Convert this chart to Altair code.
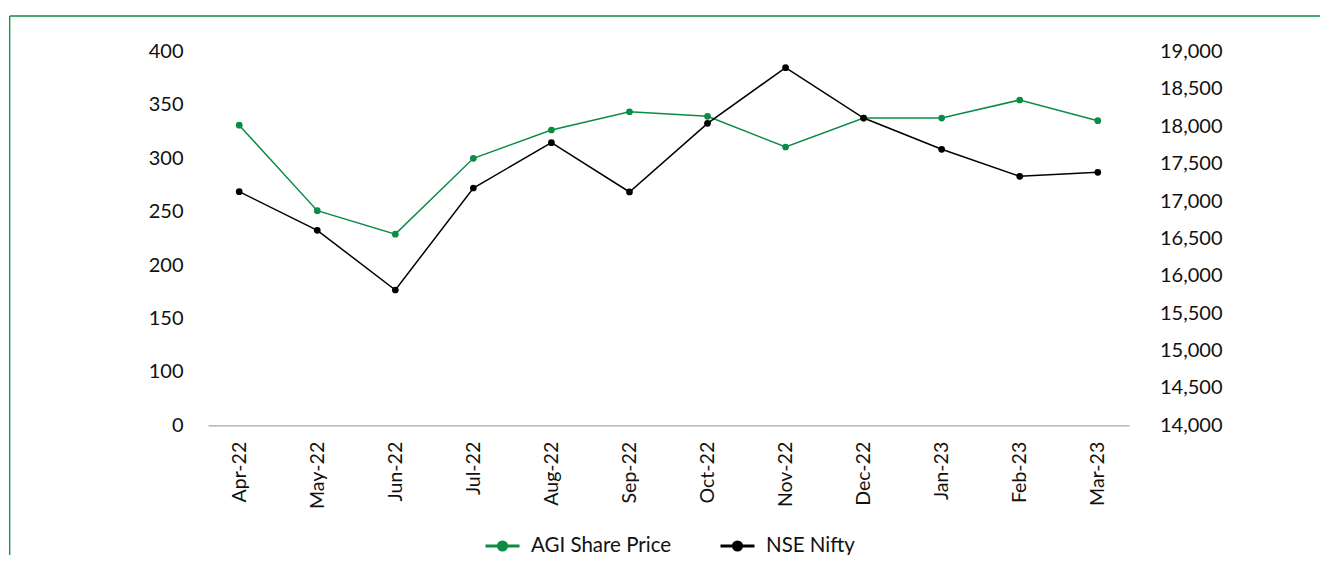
import altair as alt
import pandas as pd

months = ["Apr-22", "May-22", "Jun-22", "Jul-22", "Aug-22", "Sep-22",
          "Oct-22", "Nov-22", "Dec-22", "Jan-23", "Feb-23", "Mar-23"]
agi_price = [331, 251, 229, 300, 326.5, 343.6, 339.3, 310.6, 337.7, 337.7, 354.6, 335.2]
nse_nifty = [17125, 16608, 15810, 17174, 17780, 17121, 18039, 18784, 18110, 17692, 17331, 17384]
series_names = ["AGI Share Price", "NSE Nifty"]
series_colors = ["#0b8c45", "#000000"]
left_ticks = [50, 100, 150, 200, 250, 300, 350, 400]
right_ticks = list(range(14000, 19001, 500))

FONT = "Lato"
W, H = 921, 373.8
PAD_L, PAD_T = 200, 43.5
TOTAL_W, TOTAL_H = 1312, 547

df_agi = pd.DataFrame({"month": months, "value": agi_price, "series": series_names[0]})
df_nse = pd.DataFrame({"month": months, "value": nse_nifty, "series": series_names[1]})

legend_path = "M-1,0L1,0M-0.24,0A0.24,0.24 0 1,1 0.24,0A0.24,0.24 0 1,1 -0.24,0Z"

x_enc = alt.X("month:O", sort=months, scale=alt.Scale(type="point", padding=0.4),
              axis=alt.Axis(title=None, labelAngle=-90, labelPadding=16, ticks=False,
                            domainColor="#a6a6a6", domainWidth=1.2, labelFontSize=19.5,
                            labelFont=FONT, labelColor="#111"))
color_enc = alt.Color("series:N", scale=alt.Scale(domain=series_names, range=series_colors),
                      legend=alt.Legend(title=None, orient="none", legendX=276, legendY=476,
                                        direction="horizontal", symbolType=legend_path,
                                        symbolSize=1156, symbolStrokeWidth=3,
                                        labelFontSize=20.5, labelFont=FONT, labelColor="#111",
                                        labelOffset=10, columnPadding=42))

y_left = alt.Y("value:Q", scale=alt.Scale(domain=[50, 400], nice=False, zero=False),
               axis=alt.Axis(title=None, values=left_ticks, grid=False, domain=False, ticks=False,
                             labelExpr="datum.value == 50 ? '0' : datum.label",
                             labelPadding=25, labelFontSize=20, labelFont=FONT, labelColor="#111"))
y_right = alt.Y("value:Q", scale=alt.Scale(domain=[14000, 19000], nice=False, zero=False),
                axis=alt.Axis(title=None, orient="right", values=right_ticks, format=",.0f",
                              grid=False, domain=False, ticks=False, labelAlign="right",
                              labelPadding=93, labelFontSize=20, labelFont=FONT, labelColor="#111"))

agi_line = alt.Chart(df_agi).mark_line(strokeWidth=1.5).encode(x=x_enc, y=y_left, color=color_enc)
agi_pts = alt.Chart(df_agi).mark_circle(size=45, opacity=1).encode(x=x_enc, y=y_left, color=color_enc)
nse_line = alt.Chart(df_nse).mark_line(strokeWidth=1.5).encode(x=x_enc, y=y_right, color=color_enc)
nse_pts = alt.Chart(df_nse).mark_circle(size=45, opacity=1).encode(x=x_enc, y=y_right, color=color_enc)

left = alt.layer(agi_line, agi_pts)
right = alt.layer(nse_line, nse_pts)

frame_data = alt.Data(values=[{"k": 1}])
frame_top = alt.Chart(frame_data).mark_rule(color="#0b8c45", strokeWidth=1.3).encode(
    x=alt.value(9.7 - 8 - PAD_L), x2=alt.value(TOTAL_W - PAD_L), y=alt.value(16 - 8 - PAD_T))
frame_left = alt.Chart(frame_data).mark_rule(color="#0b8c45", strokeWidth=1.3).encode(
    x=alt.value(9.7 - 8 - PAD_L), y=alt.value(16 - 8 - PAD_T), y2=alt.value(TOTAL_H - PAD_T))

chart = alt.layer(left, right, frame_top, frame_left).resolve_scale(y="independent").properties(
    width=W, height=H,
    autosize=alt.AutoSizeParams(type="none"),
    padding={"left": PAD_L, "top": PAD_T, "right": TOTAL_W - PAD_L - W, "bottom": TOTAL_H - PAD_T - H},
    background="white",
).configure_view(strokeWidth=0, stroke="transparent")

chart.save("out.html", embed_options={"renderer": "svg", "actions": False})
